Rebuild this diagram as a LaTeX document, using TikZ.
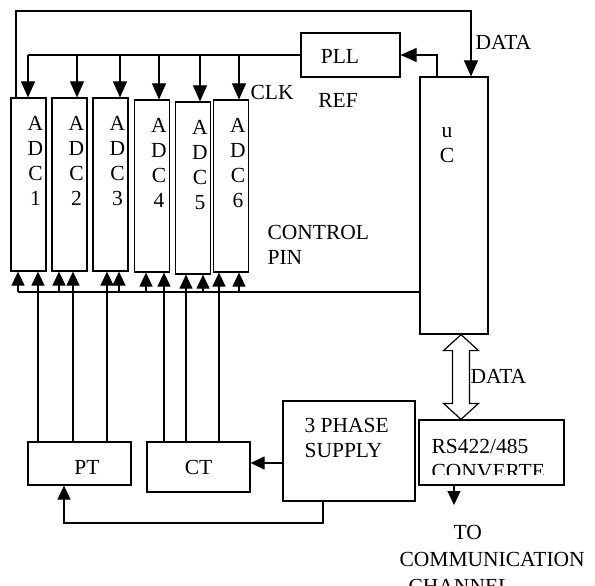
\documentclass[tikz,border=0pt]{standalone}
\usepackage{fontspec}
\setmainfont{Liberation Serif}
\usetikzlibrary{arrows.meta, calc}

\begin{document}
\begin{tikzpicture}[x=1pt, y=-1pt, line width=1.2pt,
  arr/.style={-{Triangle[length=14pt,width=13pt]}},
  bigarr/.style={-{Triangle[length=16pt,width=14pt]}},
  blk/.style={draw, rectangle, inner sep=0pt},
  txt/.style={inner sep=0pt, font=\fontsize{21.5}{25}\selectfont, align=center}
]

% Page
\clip (0,0) rectangle (595,586);

% ADC boxes: number/centre x/top/bottom
\foreach \i/\cx/\t/\b in {1/28.5/98/271, 2/69.5/98/271, 3/110.5/98/271, 4/152/100/272, 5/193/102/274, 6/231/100/272}{
  \node[blk, minimum width=35pt, minimum height={(\b-\t)*1pt}] (adc\i) at (\cx,{(\t+\b)/2}) {};
  \node[txt, anchor=north] (adcT\i) at ([xshift=7pt,yshift=-18pt]adc\i.north) {A\\D\\C\\\i};
}

% Other blocks
\node[blk, minimum width=99pt, minimum height=44pt] (pll) at (350.5,55) {};
\node[txt] (pllT) at (340,56) {PLL};
\node[blk, minimum width=68pt, minimum height=257pt] (uc) at (454,205.5) {};
\node[txt] (ucT) at (447,145) {u\\C};
\node[blk, minimum width=103pt, minimum height=43pt] (pt) at (79.5,463.5) {};
\node[txt] (ptT) at (87,467) {PT};
\node[blk, txt, minimum width=103pt, minimum height=50pt] (ct) at (198.5,467) {CT};
\node[blk, minimum width=132pt, minimum height=100pt] (sup) at (349,451) {};
\node[txt, align=left, anchor=north west] (supT) at (304,418) {3 PHASE\\SUPPLY};
\node[blk, minimum width=145pt, minimum height=65pt] (rs) at (491.5,452.5) {};
\begin{scope}
  \clip (419,420) rectangle (564,474);
  \node[txt, align=left, anchor=north west] (rsT) at (431,439) {RS422/485\\CONVERTE};
\end{scope}

% Labels
\node[txt, anchor=west] (clk) at (250,92) {CLK};
\node[txt] (ref) at (338,100) {REF};
\node[txt, anchor=west] (dataT) at (475,42) {DATA};
\node[txt, anchor=west] (dataB) at (470,376) {DATA};
\node[txt, align=left, anchor=west] (ctrl) at (267,245) {CONTROL\\PIN};
\node[txt, align=left, anchor=north west, font=\fontsize{21.5}{27}\selectfont] (comm) at (399,525)
  {\hspace{54pt}TO\\COMMUNICATION\\\hspace{9pt}CHANNEL};

% CLK bus from PLL
\foreach \i/\dx in {1/-0.5, 2/7.5, 3/9.5, 4/7, 5/7, 6/8}
  \coordinate (clk\i) at ([xshift=\dx pt]adc\i.north);
\draw (pll.west) -- (pll.west -| clk1);
\foreach \i in {1,...,6}
  \draw[bigarr] (clk\i |- pll.west) -- (clk\i);

% DATA loop over the top
\coordinate (loopTop) at (0,11);
\coordinate (lp) at ([xshift=-12.5pt]adc1.north);
\draw[bigarr] (lp) -- (lp |- loopTop) -| ([xshift=17pt]uc.north);

% REF from uC to PLL
\draw[bigarr] ([xshift=-17pt]uc.north) |- (pll.east);

% Control pin bus
\coordinate (bus) at (18,292);
\draw (bus) -- (bus -| uc.west);
\foreach \i/\dx in {1/-10.5, 2/-10.5, 3/8.5, 4/-6, 5/10, 6/8}{
  \coordinate (c\i) at ([xshift=\dx pt]adc\i.south);
  \draw[arr] (c\i |- bus) -- (c\i);
}

% PT and CT outputs
\foreach \i/\dx/\src in {1/9.5/pt, 2/3.5/pt, 3/-3.5/pt, 4/12/ct, 5/-7/ct, 6/-12/ct}{
  \coordinate (s\i) at ([xshift=\dx pt]adc\i.south);
  \draw[arr] (s\i |- \src.north) -- (s\i);
}

% Supply to CT and PT
\coordinate (feed) at (0,463);
\draw[arr] (sup.west |- feed) -- (ct.east |- feed);
\coordinate (ret) at (0,523);
\coordinate (supOut) at ([xshift=-26pt]sup.south);
\coordinate (ptIn) at ([xshift=-15.5pt]pt.south);
\draw[arr] (supOut) -- (supOut |- ret) -| (ptIn);

% DATA double arrow
\coordinate (da) at ([xshift=7pt]uc.south);
\coordinate (db) at (da |- rs.north);
\draw (da) -- ++(17.5,16) -- ++(-9,0) -- ($(db)+(8.5,-16)$) -- ++(9,0) -- (db)
  -- ++(-17.5,-16) -- ++(9,0) -- ($(da)+(-8.5,16)$) -- ++(-9,0) -- cycle;

% To channel
\coordinate (chan) at (454,505);
\draw[arr] (chan |- rs.south) -- (chan);

\end{tikzpicture}
\end{document}
